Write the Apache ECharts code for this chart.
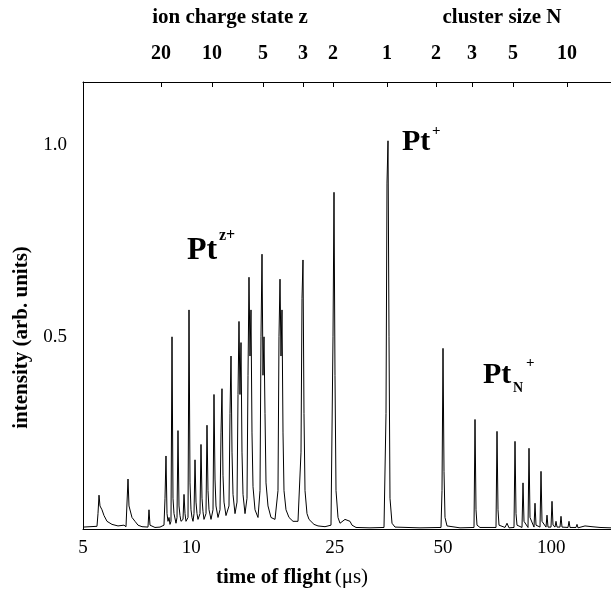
<!DOCTYPE html>
<html>
<head>
<meta charset="utf-8">
<script src="https://cdn.jsdelivr.net/npm/echarts@6/dist/echarts.min.js"></script>
<style>
  html, body { margin: 0; padding: 0; background: #fff; }
  #chart { width: 611px; height: 593px; }
</style>
</head>
<body>
<div id="chart"></div>
<script>
// time of flight (us) and intensity
const tof = [
  5.000, 5.229, 5.468, 5.503, 5.539, 5.574, 5.646, 5.719, 5.830, 6.019,
  6.254, 6.499, 6.583, 6.625, 6.668, 6.710, 6.753, 6.840, 6.973, 7.108,
  7.292, 7.577, 7.626, 7.675, 7.924, 8.182, 8.394, 8.448, 8.502, 8.557,
  8.612, 8.667, 8.722, 8.778, 8.835, 8.891, 8.948, 9.006, 9.064, 9.122,
  9.180, 9.239, 9.299, 9.358, 9.479, 9.540, 9.601, 9.662, 9.724, 9.787,
  9.850, 9.913, 9.976, 10.040, 10.105, 10.170, 10.235, 10.301, 10.367, 10.433,
  10.567, 10.635, 10.704, 10.772, 10.841, 10.981, 11.051, 11.122, 11.194, 11.338,
  11.484, 11.557, 11.632, 11.706, 11.857, 12.010, 12.087, 12.164, 12.242, 12.321,
  12.479, 12.721, 12.803, 12.885, 12.968, 13.051, 13.219, 13.389, 13.475, 13.561,
  13.648, 13.736, 13.824, 13.913, 14.092, 14.273, 14.365, 14.457, 14.550, 14.643,
  14.737, 14.832, 15.023, 15.314, 15.511, 15.610, 15.711, 15.811, 15.913, 16.015,
  16.118, 16.325, 16.641, 17.073, 17.403, 17.515, 17.628, 17.741, 17.854, 17.969,
  18.084, 18.317, 18.672, 19.156, 19.778, 20.162, 20.291, 20.421, 20.552, 20.684,
  20.950, 21.220, 21.493, 21.910, 22.477, 23.507, 24.426, 24.741, 24.900, 25.059,
  25.220, 25.545, 25.874, 26.207, 26.715, 27.058, 27.583, 27.938, 28.662, 31.347,
  34.283, 34.725, 34.947, 35.172, 35.397, 35.624, 36.083, 36.782, 43.160, 49.364,
  49.681, 50.000, 50.321, 50.644, 51.296, 55.743, 60.965, 61.356, 61.750, 62.146,
  63.350, 70.177, 70.627, 71.080, 71.536, 74.335, 75.292, 76.261, 78.739, 79.245,
  79.753, 80.265, 82.873, 83.405, 83.940, 86.115, 86.668, 87.224, 89.484, 90.059,
  90.636, 92.985, 93.582, 94.182, 96.623, 97.243, 97.867, 99.763, 100.403, 101.048,
  102.349, 103.006, 103.666, 105.675, 106.353, 107.035, 111.222, 111.936, 112.654, 117.062,
  117.813, 118.569, 123.998, 124.794, 129.676, 136.484, 146.43
];
const intensity = [
  0.005, 0.006, 0.007, 0.04, 0.088, 0.06, 0.05, 0.035, 0.02, 0.012,
  0.008, 0.01, 0.006, 0.01, 0.13, 0.06, 0.065, 0.03, 0.02, 0.01,
  0.006, 0.005, 0.05, 0.01, 0.004, 0.005, 0.01, 0.08, 0.19, 0.04,
  0.02, 0.03, 0.012, 0.02, 0.50, 0.08, 0.04, 0.045, 0.015, 0.03,
  0.256, 0.06, 0.035, 0.02, 0.025, 0.09, 0.04, 0.02, 0.015, 0.03,
  0.57, 0.12, 0.05, 0.03, 0.02, 0.04, 0.18, 0.07, 0.04, 0.025,
  0.04, 0.22, 0.08, 0.045, 0.025, 0.04, 0.27, 0.10, 0.05, 0.025,
  0.05, 0.35, 0.13, 0.06, 0.03, 0.05, 0.25, 0.365, 0.14, 0.07,
  0.035, 0.06, 0.30, 0.45, 0.20, 0.09, 0.04, 0.07, 0.35, 0.54,
  0.35, 0.485, 0.20, 0.09, 0.04, 0.08, 0.40, 0.655, 0.45, 0.57,
  0.25, 0.11, 0.05, 0.03, 0.10, 0.50, 0.715, 0.40, 0.50, 0.30,
  0.12, 0.06, 0.03, 0.025, 0.10, 0.50, 0.65, 0.45, 0.57, 0.25,
  0.10, 0.05, 0.03, 0.02, 0.02, 0.20, 0.60, 0.70, 0.30, 0.10,
  0.04, 0.025, 0.02, 0.012, 0.008, 0.006, 0.01, 0.50, 0.876, 0.40,
  0.10, 0.03, 0.015, 0.02, 0.025, 0.028, 0.02, 0.01, 0.004, 0.003,
  0.004, 0.30, 0.90, 1.01, 0.50, 0.08, 0.015, 0.005, 0.003, 0.004,
  0.10, 0.47, 0.15, 0.03, 0.008, 0.003, 0.004, 0.285, 0.05, 0.01,
  0.004, 0.004, 0.254, 0.05, 0.01, 0.004, 0.015, 0.003, 0.004, 0.228,
  0.04, 0.01, 0.004, 0.12, 0.02, 0.004, 0.21, 0.03, 0.005, 0.067,
  0.01, 0.005, 0.15, 0.02, 0.005, 0.036, 0.005, 0.005, 0.072, 0.01,
  0.005, 0.02, 0.005, 0.005, 0.033, 0.005, 0.004, 0.02, 0.004, 0.004,
  0.012, 0.003, 0.008, 0.003, 0.006, 0.004, 0.003
];

const bottomTicks = [5, 10, 25, 50, 100];
const yTicks = [0.5, 1.0];
// top axis: ion charge state z (left of Pt+) and cluster size N (right of it)
const topTickTimes = [8.234, 11.41, 15.81, 20.42, 24.74, 34.95, 47.81, 60.19, 78.24, 110.5];
const topTickLabels = ['20', '10', '5', '3', '2', '1', '2', '3', '5', '10'];

const serif = '"Liberation Serif", "DejaVu Serif", serif';
const tMin = 5, tMax = 146.43;

const chart = echarts.init(document.getElementById('chart'));

function topLabel(v) {
  let best = 0;
  for (let i = 1; i < topTickTimes.length; i++) {
    if (Math.abs(topTickTimes[i] - v) < Math.abs(topTickTimes[best] - v)) best = i;
  }
  return topTickLabels[best];
}

function label(x, y, text, size) {
  return {
    type: 'text', x: x, y: y,
    style: { text: text, align: 'left', verticalAlign: 'middle', font: 'bold ' + size + 'px ' + serif, fill: '#000' }
  };
}

const option = {
  animation: false,
  backgroundColor: '#fff',
  grid: { left: 83, right: 0, top: 82, bottom: 62 },
  xAxis: [
    {
      type: 'log',
      min: tMin,
      max: tMax,
      position: 'bottom',
      axisLine: { lineStyle: { color: '#000', width: 1 } },
      axisTick: { show: false },
      splitLine: { show: false },
      axisLabel: {
        customValues: bottomTicks,
        color: '#000',
        fontFamily: serif,
        fontSize: 19,
        margin: 10,
        formatter: v => String(Math.round(v))
      },
      name: '{b|time of flight} {r|(μs)}',
      nameLocation: 'middle',
      nameGap: 38,
      nameTextStyle: {
        padding: [0, 110, 0, 0],
        rich: {
          b: { fontFamily: serif, fontWeight: 'bold', fontSize: 21, color: '#000' },
          r: { fontFamily: serif, fontSize: 21, color: '#000' }
        }
      }
    },
    {
      type: 'log',
      min: tMin,
      max: tMax,
      position: 'top',
      axisLine: { lineStyle: { color: '#000', width: 1 } },
      axisTick: { customValues: topTickTimes, inside: true, length: 5, lineStyle: { color: '#000' } },
      splitLine: { show: false },
      axisLabel: {
        customValues: topTickTimes,
        color: '#000',
        fontFamily: serif,
        fontWeight: 'bold',
        fontSize: 20,
        margin: 18,
        formatter: topLabel
      }
    }
  ],
  yAxis: {
    type: 'value',
    min: 0,
    max: 1.163,
    axisLine: { show: true, lineStyle: { color: '#000', width: 1 } },
    axisTick: { show: false },
    splitLine: { show: false },
    axisLabel: {
      customValues: yTicks,
      color: '#000',
      fontFamily: serif,
      fontSize: 19,
      margin: 16,
      formatter: v => v.toFixed(1)
    },
    name: 'intensity (arb. units)',
    nameLocation: 'middle',
    nameRotate: 90,
    nameGap: 50,
    nameTextStyle: {
      fontFamily: serif, fontWeight: 'bold', fontSize: 21, color: '#000',
      padding: [0, 64, 0, 0]
    }
  },
  series: [{
    type: 'line',
    xAxisIndex: 0,
    data: tof.map((t, i) => [t, intensity[i]]),
    showSymbol: false,
    lineStyle: { color: '#000', width: 1 }
  }],
  graphic: [
    { type: 'text', x: 230, y: 18, style: { text: 'ion charge state z', align: 'center', verticalAlign: 'middle', font: 'bold 21px ' + serif, fill: '#000' } },
    { type: 'text', x: 502, y: 18, style: { text: 'cluster size N', align: 'center', verticalAlign: 'middle', font: 'bold 21px ' + serif, fill: '#000' } },
    label(187, 251, 'Pt', 32),
    label(219, 236, 'z+', 16),
    label(402, 142, 'Pt', 30),
    label(432, 131, '+', 15),
    label(483, 375, 'Pt', 30),
    label(513, 388, 'N', 14),
    label(526, 363, '+', 15)
  ]
};

chart.setOption(option);
</script>
</body>
</html>
